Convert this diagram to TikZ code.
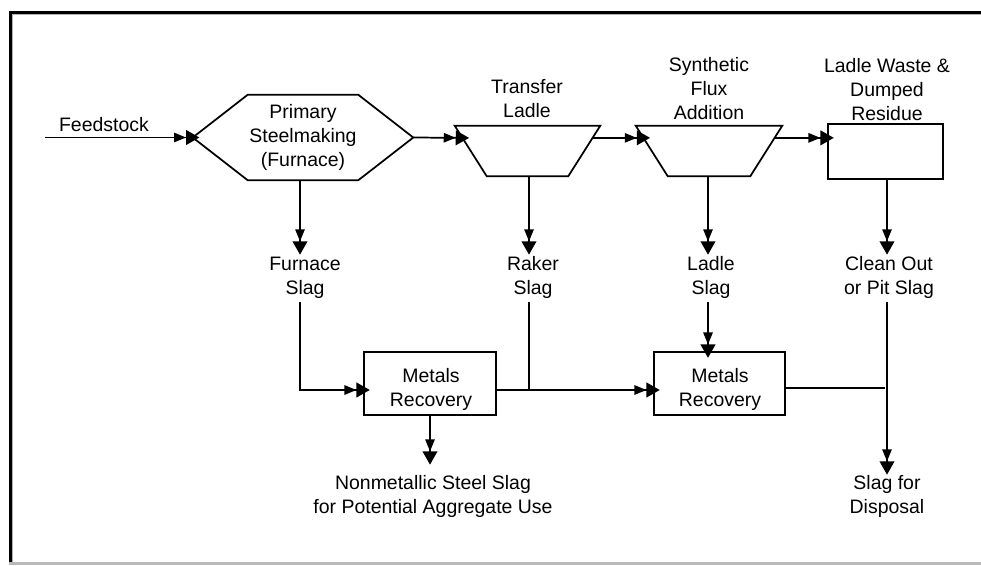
\documentclass[tikz,border=0pt]{standalone}
\usepackage{fontspec}
\setmainfont{Liberation Sans}
\usetikzlibrary{arrows.meta,calc}
\def\pxu{0.75pt}
\begin{document}
\begin{tikzpicture}[x=0.75pt,y=-0.75pt,
  every node/.style={font=\fontsize{14.6}{18}\selectfont, align=center, inner sep=0pt},
  ln/.style={line width=1.3pt, black},
  arr/.style={ln, -{Triangle[length=9pt,width=7pt]Triangle[length=10pt,width=11pt,sep=-5pt]}},
  blk/.style={draw, ln},
  ghost/.style={draw=none}]
\useasboundingbox (0,0) rectangle (981,565);
% frame
\fill[black] (9,11) rectangle (981,13.5);
\fill[gray!60] (11.5,13.5) rectangle (981,15);
\fill[black] (9,11) rectangle (11.5,565);
\fill[gray!60] (11.5,13.5) rectangle (13,562);
\fill[gray!55] (9,562) rectangle (981,564.5);

% top row shapes
\node[ghost, minimum width=220*\pxu, minimum height=85*\pxu] (hex) at (303,137.5) {Primary\\Steelmaking\\(Furnace)};
\draw[ln] (hex.west) -- ([xshift=55*\pxu]hex.north west) -- ([xshift=-55*\pxu]hex.north east) -- (hex.east)
  -- ([xshift=-55*\pxu]hex.south east) -- ([xshift=55*\pxu]hex.south west) -- cycle;

\node[ghost, minimum width=145*\pxu, minimum height=50*\pxu] (tl) at (527.5,151) {};
\draw[ln] (tl.north west) -- (tl.north east) -- ([xshift=-32*\pxu]tl.south east) -- ([xshift=32*\pxu]tl.south west) -- cycle;
\node (tltx) at (527,98.5) {Transfer\\Ladle};

\node[ghost, minimum width=146*\pxu, minimum height=50*\pxu] (sf) at (709,151) {};
\draw[ln] (sf.north west) -- (sf.north east) -- ([xshift=-32*\pxu]sf.south east) -- ([xshift=32*\pxu]sf.south west) -- cycle;
\node (sftx) at (709,88.3) {Synthetic\\Flux\\Addition};

\node[blk, minimum width=115*\pxu, minimum height=55*\pxu] (lw) at (885.5,151.5) {};
\node (lwtx) at (887,89.7) {Ladle Waste \&\\Dumped\\Residue};

\coordinate (tlL) at ($(tl.north west)!0.24!([xshift=32*\pxu]tl.south west)$);
\coordinate (tlR) at ($(tl.north east)!0.24!([xshift=-32*\pxu]tl.south east)$);
\coordinate (sfL) at ($(sf.north west)!0.24!([xshift=32*\pxu]sf.south west)$);
\coordinate (sfR) at ($(sf.north east)!0.24!([xshift=-32*\pxu]sf.south east)$);

\coordinate (feedin) at (45,137.5);
\node (feed) at (104,125) {Feedstock};

\draw[arr] (feedin) -- (hex.west);
\draw[arr] (hex.east) -- (tlL);
\draw[arr] (tlR) -- (sfL);
\draw[arr] (sfR) -- (lw.west |- sfR);

% slag labels
\coordinate (fsT) at (300,248); \coordinate (fsB) at (300,302);
\coordinate (rsT) at (529,248); \coordinate (rsB) at (529,302);
\coordinate (lsT) at (708,248); \coordinate (lsB) at (708,302);
\coordinate (coT) at (887,248); \coordinate (coB) at (887,302);
\node (fs) at (305,277.5) {Furnace\\Slag};
\node (rs) at (533,277.5) {Raker\\Slag};
\node (ls) at (711,277.5) {Ladle\\Slag};
\node (co) at (889,277.5) {Clean Out\\or Pit Slag};

\draw[arr] (fsT |- hex.south) -- (fsT);
\draw[arr] (rsT |- tl.south) -- (rsT);
\draw[arr] (lsT |- sf.south) -- (lsT);
\draw[arr] (coT |- lw.south) -- (coT);

% lower row
\node[blk, minimum width=132*\pxu, minimum height=63*\pxu] (mr1) at (430,383.5) {};
\node[blk, minimum width=131*\pxu, minimum height=63*\pxu] (mr2) at (719.5,383.5) {};
\node (mr1t) at (431,389) {Metals\\Recovery};
\node (mr2t) at (720,389) {Metals\\Recovery};
\coordinate (row) at (0,390);
\coordinate (row2) at (0,388);
\coordinate (nmT) at (430,458);
\coordinate (coE) at (887,468);
\node (nm) at (433,496) {Nonmetallic Steel Slag\\for Potential Aggregate Use};
\node (sd) at (887,496) {Slag for\\Disposal};

\draw[arr] (fsB) |- (mr1.west |- row);
\draw[ln] (rsB) -- (rsB |- row);
\draw[arr] (mr1.east |- row) -- (mr2.west |- row);
\draw[arr] (lsB) -- (lsB |- mr2.north);
\draw[ln] (mr2.east |- row2) -- ($(coB |- row2)+(-2,0)$);
\draw[arr] (coB) -- (coE);
\draw[arr] (mr1.south) -- (nmT);
\end{tikzpicture}
\end{document}
